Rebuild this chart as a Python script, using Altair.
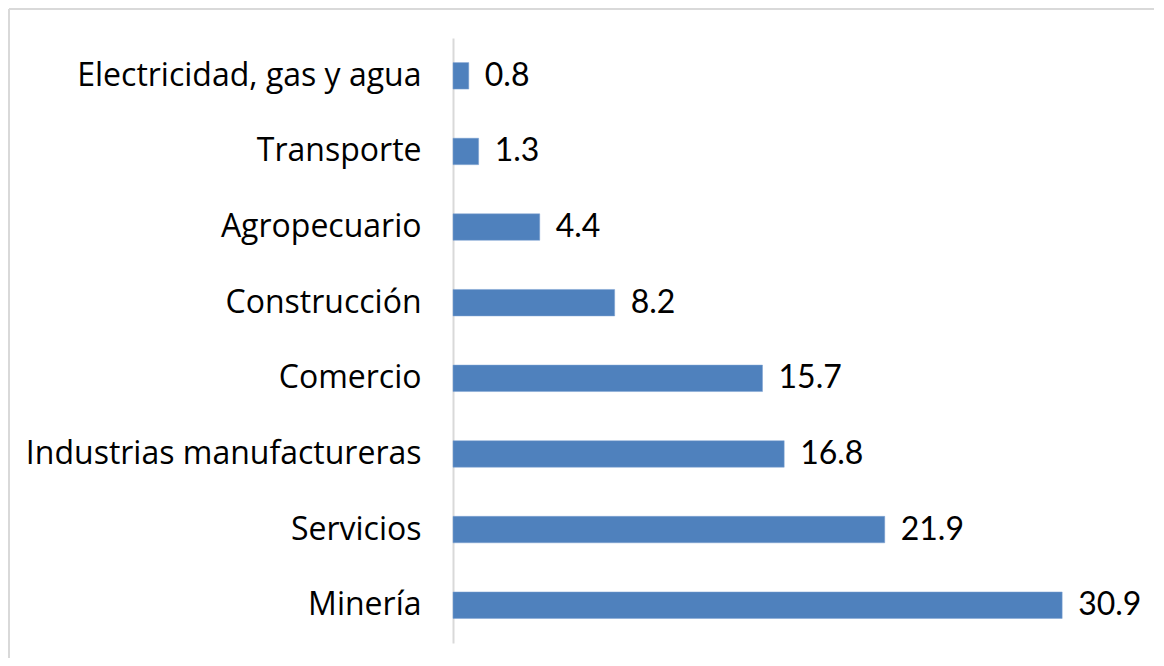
import altair as alt
import pandas as pd

categories = ["Electricidad, gas y agua", "Transporte", "Agropecuario", "Construcción",
              "Comercio", "Industrias manufactureras", "Servicios", "Minería"]
values = [0.8, 1.3, 4.4, 8.2, 15.7, 16.8, 21.9, 30.9]

df = pd.DataFrame({"sector": categories, "valor": values})
LABEL_FONT = "Open Sans"
NUM_FONT = "Lato"

x = alt.X("valor:Q", scale=alt.Scale(domain=[0, 35], nice=False), axis=None)
y = alt.Y("sector:N", sort=categories,
          scale=alt.Scale(paddingInner=0.65, paddingOuter=0.325),
          axis=alt.Axis(title=None, ticks=False, domainColor="#d9d9d9", domainWidth=2,
                        labelFont=LABEL_FONT, labelFontSize=32, labelColor="#000000",
                        labelPadding=32, labelLimit=500))

top_line = alt.Chart(df).mark_rule(stroke="#d9d9d9", strokeWidth=2).encode(
    x=alt.value(-444), x2=alt.value(760), y=alt.value(-29))
left_line = alt.Chart(df).mark_rule(stroke="#d9d9d9", strokeWidth=2).encode(
    x=alt.value(-444), y=alt.value(-29), y2=alt.value(700))

bars = alt.Chart(df).mark_bar(color="#4F81BD", stroke="#7fa3d3", strokeWidth=0.5).encode(x=x, y=y)
text = alt.Chart(df).mark_text(align="left", baseline="middle", dx=16, font=NUM_FONT,
                               fontSize=32, color="#000000").encode(
    x=x, y=y, text=alt.Text("valor:Q", format=".1f"))

chart = alt.layer(top_line, left_line, bars, text).properties(
    width=690, height=605,
    padding={"left": 445, "top": 30, "right": 11, "bottom": 15},
    autosize=alt.AutoSizeParams(type="none"),
).configure(background="white").configure_view(strokeWidth=0, stroke=None)

chart.save("out.html", embed_options={"renderer": "svg", "actions": False})
